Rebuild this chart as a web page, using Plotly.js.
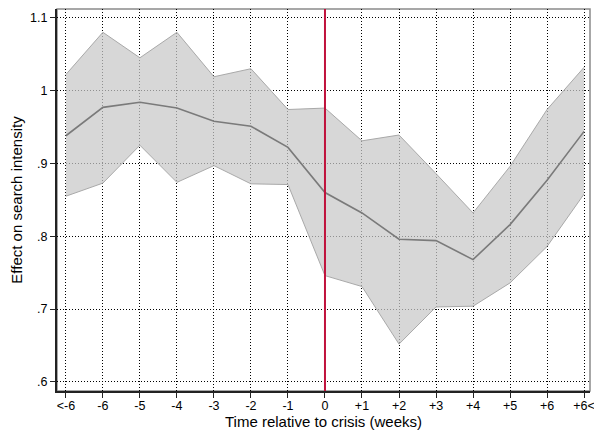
<!DOCTYPE html>
<html>
<head>
<meta charset="utf-8">
<script src="https://cdn.plot.ly/plotly-3.0.1.min.js"></script>
<style>html,body{margin:0;padding:0;background:#fff;}#chart{width:594px;height:432px;}</style>
</head>
<body>
<div id="chart"></div>
<script>
const categories = ["<-6","-6","-5","-4","-3","-2","-1","0","+1","+2","+3","+4","+5","+6","+6<"];
const estimate = [0.938,0.977,0.984,0.976,0.958,0.951,0.922,0.860,0.832,0.796,0.794,0.768,0.816,0.877,0.944];
const upperCI  = [1.022,1.080,1.045,1.080,1.019,1.030,0.974,0.976,0.931,0.939,0.886,0.832,0.896,0.974,1.032];
const lowerCI  = [0.855,0.873,0.925,0.874,0.897,0.872,0.871,0.746,0.731,0.652,0.703,0.704,0.736,0.786,0.858];
const yTickVals = [0.6,0.7,0.8,0.9,1.0,1.1];
const yTickText = [".6",".7",".8",".9","1","1.1"];
const crisisCategory = "0";

const xIdx = categories.map((c,i)=>i);
const crisisX = categories.indexOf(crisisCategory);

const traces = [
  {x:xIdx, y:lowerCI, type:'scatter', mode:'lines', line:{color:'#a9a9a9', width:1}, hoverinfo:'skip', showlegend:false},
  {x:xIdx, y:upperCI, type:'scatter', mode:'lines', fill:'tonexty', fillcolor:'rgba(200,200,200,0.72)', line:{color:'#a9a9a9', width:1}, hoverinfo:'skip', showlegend:false},
  {x:xIdx, y:estimate, type:'scatter', mode:'lines', line:{color:'#7a7a7a', width:1.6}, showlegend:false}
];

const font = {family:'"Liberation Sans", Arial, sans-serif', color:'#000'};
const layout = {
  width:594, height:432,
  margin:{l:57, r:4, t:9, b:41},
  paper_bgcolor:'#fff', plot_bgcolor:'#fff',
  font:Object.assign({size:12}, font),
  xaxis:{
    range:[-0.24,14.16], tickmode:'array', tickvals:xIdx, ticktext:categories,
    ticklabeloverflow:'allow', ticklabelstandoff:-3,
    showgrid:true, gridcolor:'#000', gridwidth:1, griddash:'1px,2px',
    zeroline:false, showline:true, linecolor:'#222', linewidth:2,
    ticks:'outside', ticklen:5, tickcolor:'#222', tickwidth:1,
    tickfont:{size:12.5, family:font.family, color:'#000'},
    title:{text:'Time relative to crisis (weeks)', font:{size:15, family:font.family, color:'#000'}, standoff:1}
  },
  yaxis:{
    range:[0.5876,1.112], tickmode:'array', tickvals:yTickVals, ticktext:yTickText,
    showgrid:true, gridcolor:'#000', gridwidth:1, griddash:'1px,2px',
    zeroline:false, showline:true, linecolor:'#222', linewidth:2,
    ticks:'outside', ticklen:5, tickcolor:'#222', tickwidth:1,
    tickfont:{size:12.5, family:font.family, color:'#000'},
    title:{text:'Effect on search intensity', font:{size:15, family:font.family, color:'#000'}, standoff:4}
  },
  shapes:[
    {type:'rect', xref:'paper', yref:'paper', x0:0, x1:1, y0:0, y1:1, line:{color:'#8a8a8a', width:1.5}, layer:'below'},
    {type:'line', xref:'x', yref:'paper', x0:crisisX, x1:crisisX, y0:0, y1:1, line:{color:'#c0123c', width:2}}
  ]
};
Plotly.newPlot('chart', traces, layout, {displayModeBar:false, staticPlot:true});
</script>
</body>
</html>
